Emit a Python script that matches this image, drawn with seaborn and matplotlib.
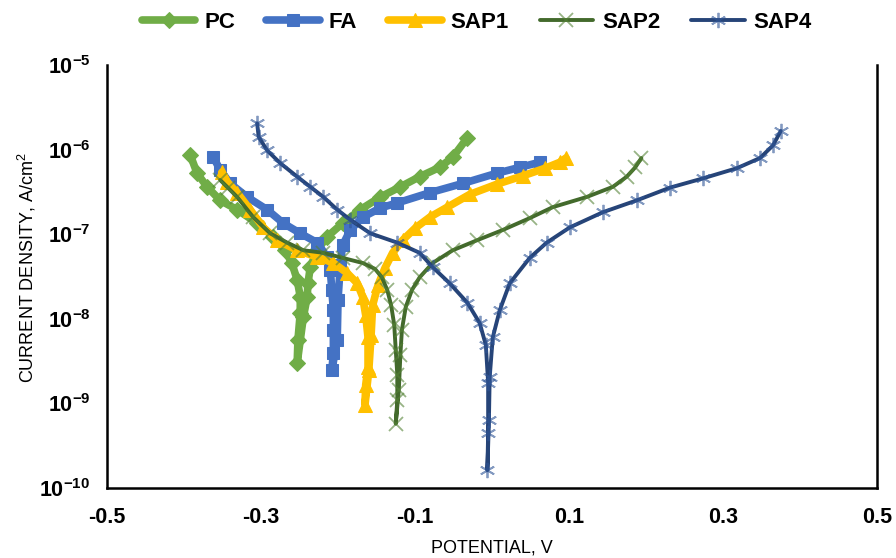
"""Tafel polarisation curves (PC, FA, SAP1, SAP2, SAP4) redrawn with seaborn."""

import matplotlib
matplotlib.use("Agg")
import matplotlib.pyplot as plt
from matplotlib.colors import to_rgba
import numpy as np
import pandas as pd
import seaborn as sns


# ── Data: potential (V) and log10 current density (A/cm2) ──
PC_E = [-0.392, -0.383, -0.370, -0.353, -0.331, -0.305, -0.284, -0.269, -0.260, -0.253,
        -0.249, -0.249, -0.252, -0.253,
        -0.245, -0.240, -0.239, -0.236, -0.227, -0.214, -0.194, -0.171, -0.145, -0.119,
        -0.094, -0.068, -0.051, -0.032]
PC_LOGI = [-6.06, -6.28, -6.44, -6.60, -6.71, -6.87, -7.03, -7.19, -7.34, -7.54,
           -7.74, -7.93, -8.25, -8.52,
           -7.98, -7.74, -7.58, -7.39, -7.19, -7.03, -6.87, -6.71, -6.56, -6.44,
           -6.32, -6.21, -6.09, -5.86]

FA_E = [-0.362, -0.353, -0.340, -0.318, -0.292, -0.271, -0.249, -0.227, -0.214, -0.210,
        -0.208, -0.206, -0.206, -0.206, -0.208,
        -0.201, -0.200, -0.197, -0.194, -0.184, -0.168, -0.145, -0.123, -0.081, -0.038,
        0.006, 0.036, 0.062]
FA_LOGI = [-6.09, -6.24, -6.40, -6.56, -6.71, -6.87, -6.99, -7.10, -7.27, -7.42,
           -7.66, -7.90, -8.13, -8.40, -8.61,
           -8.25, -7.78, -7.36, -7.13, -6.95, -6.80, -6.69, -6.63, -6.51, -6.40,
           -6.28, -6.21, -6.15]

SAP1_E = [-0.351, -0.344, -0.331, -0.314, -0.297, -0.279, -0.253, -0.227, -0.206, -0.188,
          -0.175, -0.168, -0.164, -0.161, -0.161, -0.164, -0.165,
          -0.160, -0.157, -0.155, -0.148, -0.139, -0.129, -0.116, -0.100, -0.081, -0.058,
          -0.029, 0.006, 0.040, 0.069, 0.088, 0.096]
SAP1_LOGI = [-6.27, -6.38, -6.51, -6.71, -6.92, -7.07, -7.19, -7.27, -7.34, -7.46,
             -7.58, -7.74, -7.96, -8.22, -8.57, -8.78, -9.02,
             -8.61, -8.19, -7.84, -7.60, -7.40, -7.22, -7.07, -6.93, -6.80, -6.68,
             -6.53, -6.41, -6.31, -6.22, -6.15, -6.10]

SAP2_E = [-0.353, -0.343, -0.331, -0.310, -0.288, -0.266, -0.245, -0.219, -0.194, -0.168,
          -0.152, -0.143, -0.136, -0.131, -0.127, -0.125, -0.123, -0.123, -0.125,
          -0.121, -0.119, -0.117, -0.112, -0.104, -0.094, -0.077, -0.051, -0.019, 0.014,
          0.049, 0.079, 0.123, 0.157, 0.175, 0.186, 0.194]
SAP2_LOGI = [-6.36, -6.45, -6.56, -6.80, -6.99, -7.10, -7.19, -7.22, -7.28, -7.34,
             -7.41, -7.51, -7.66, -7.84, -8.07, -8.37, -8.66, -8.96, -9.24,
             -8.84, -8.43, -8.13, -7.86, -7.66, -7.51, -7.34, -7.19, -7.07, -6.95,
             -6.81, -6.68, -6.56, -6.44, -6.32, -6.21, -6.10]

SAP4_E = [-0.305, -0.303, -0.292, -0.275, -0.253, -0.236, -0.219, -0.201, -0.184, -0.158,
          -0.123, -0.094, -0.077, -0.055, -0.032, -0.016, -0.008, -0.005, -0.005, -0.006,
          -0.004, -0.003, 0.001, 0.010, 0.023, 0.049, 0.071, 0.101, 0.144, 0.188,
          0.231, 0.274, 0.318, 0.348, 0.365, 0.375]
SAP4_LOGI = [-5.69, -5.85, -6.01, -6.16, -6.32, -6.44, -6.56, -6.71, -6.83, -6.99,
             -7.10, -7.22, -7.39, -7.58, -7.81, -8.05, -8.31, -8.76, -9.35, -9.79,
             -9.20, -8.69, -8.22, -7.90, -7.58, -7.28, -7.10, -6.92, -6.74, -6.60,
             -6.45, -6.34, -6.22, -6.10, -5.95, -5.78]

X_TICKS = [-0.5, -0.3, -0.1, 0.1, 0.3, 0.5]
X_TICK_LABELS = ["-0.5", "-0.3", "-0.1", "0.1", "0.3", "0.5"]
Y_EXPONENTS = [-10, -9, -8, -7, -6, -5]


# ── Fonts ─────────────────────────────────────────────────────────────
sns.set_style("white")
FONT = "Liberation Sans"
plt.rcParams["font.family"] = [FONT, "DejaVu Sans"]
plt.rcParams["mathtext.fontset"] = "custom"
plt.rcParams["mathtext.rm"] = FONT
plt.rcParams["mathtext.bf"] = f"{FONT}:bold"
plt.rcParams["text.color"] = "black"
plt.rcParams["axes.labelcolor"] = "black"
plt.rcParams["xtick.color"] = "black"
plt.rcParams["ytick.color"] = "black"


def series_frame(e, logi):
    return pd.DataFrame({"E": e, "I": np.power(10.0, logi)})


SERIES = [
    ("PC", PC_E, PC_LOGI, dict(color="#70AD47", marker="D", markersize=8, linewidth=5.5,
                               markeredgecolor="#70AD47")),
    ("FA", FA_E, FA_LOGI, dict(color="#4472C4", marker="s", markersize=8.5, linewidth=5.5,
                               markeredgecolor="#4472C4")),
    ("SAP1", SAP1_E, SAP1_LOGI, dict(color="#FFC000", marker="^", markersize=9.5, linewidth=5.5,
                                     markeredgecolor="#FFC000")),
    ("SAP2", SAP2_E, SAP2_LOGI, dict(color="#436A2C", marker="x", markersize=10, linewidth=2.8,
                                     markeredgewidth=1.3,
                                     markeredgecolor=to_rgba("#548235", 0.6))),
    ("SAP4", SAP4_E, SAP4_LOGI, dict(color="#264478", marker=(6, 2, 0), markersize=11,
                                     linewidth=2.8, markeredgewidth=1.3,
                                     markeredgecolor=to_rgba("#2F5597", 0.6))),
]

fig = plt.figure(figsize=(8.96, 5.58), dpi=100)
ax = fig.add_axes([107 / 896, 70 / 558, 770 / 896, 423 / 558])
ax.set_yscale("log")

for name, e, logi, style in SERIES:
    sns.lineplot(data=series_frame(e, logi), x="E", y="I", ax=ax, sort=False,
                 estimator=None, label=name, **style)

ax.set_xlim(-0.5, 0.5)
ax.set_ylim(1e-10, 1e-5)
ax.set_xticks(X_TICKS)
ax.set_xticklabels(X_TICK_LABELS, fontsize=15.5, fontweight="bold")
ax.set_yticks([10.0 ** p for p in Y_EXPONENTS])
ax.set_yticklabels([rf"$\mathbf{{10^{{{p}}}}}$" for p in Y_EXPONENTS], fontsize=15.5)
ax.minorticks_off()
ax.tick_params(axis="x", direction="out", length=6, width=1.5, pad=8, color="black")
ax.tick_params(axis="y", direction="out", length=6, width=1.5, pad=6, color="black")

ax.spines["top"].set_visible(False)
for side in ["left", "bottom", "right"]:
    ax.spines[side].set_color("black")
    ax.spines[side].set_linewidth(1.8)

ax.set_xlabel("POTENTIAL, V", fontsize=13)
ax.set_ylabel(r"CURRENT DENSITY, A/cm$^2$", fontsize=13)
ax.xaxis.set_label_coords(0.5, -0.122)
ax.yaxis.set_label_coords(-0.09, 0.52)

handles, labels = ax.get_legend_handles_labels()
ax.get_legend().remove()
fig.legend(handles, labels, loc="center", ncol=5, frameon=False,
           bbox_to_anchor=(477 / 896, 1 - 22 / 558),
           prop={"weight": "bold", "size": 16}, handlelength=2.4,
           columnspacing=1.4, handletextpad=0.4)

fig.savefig("out.png", dpi=100)
